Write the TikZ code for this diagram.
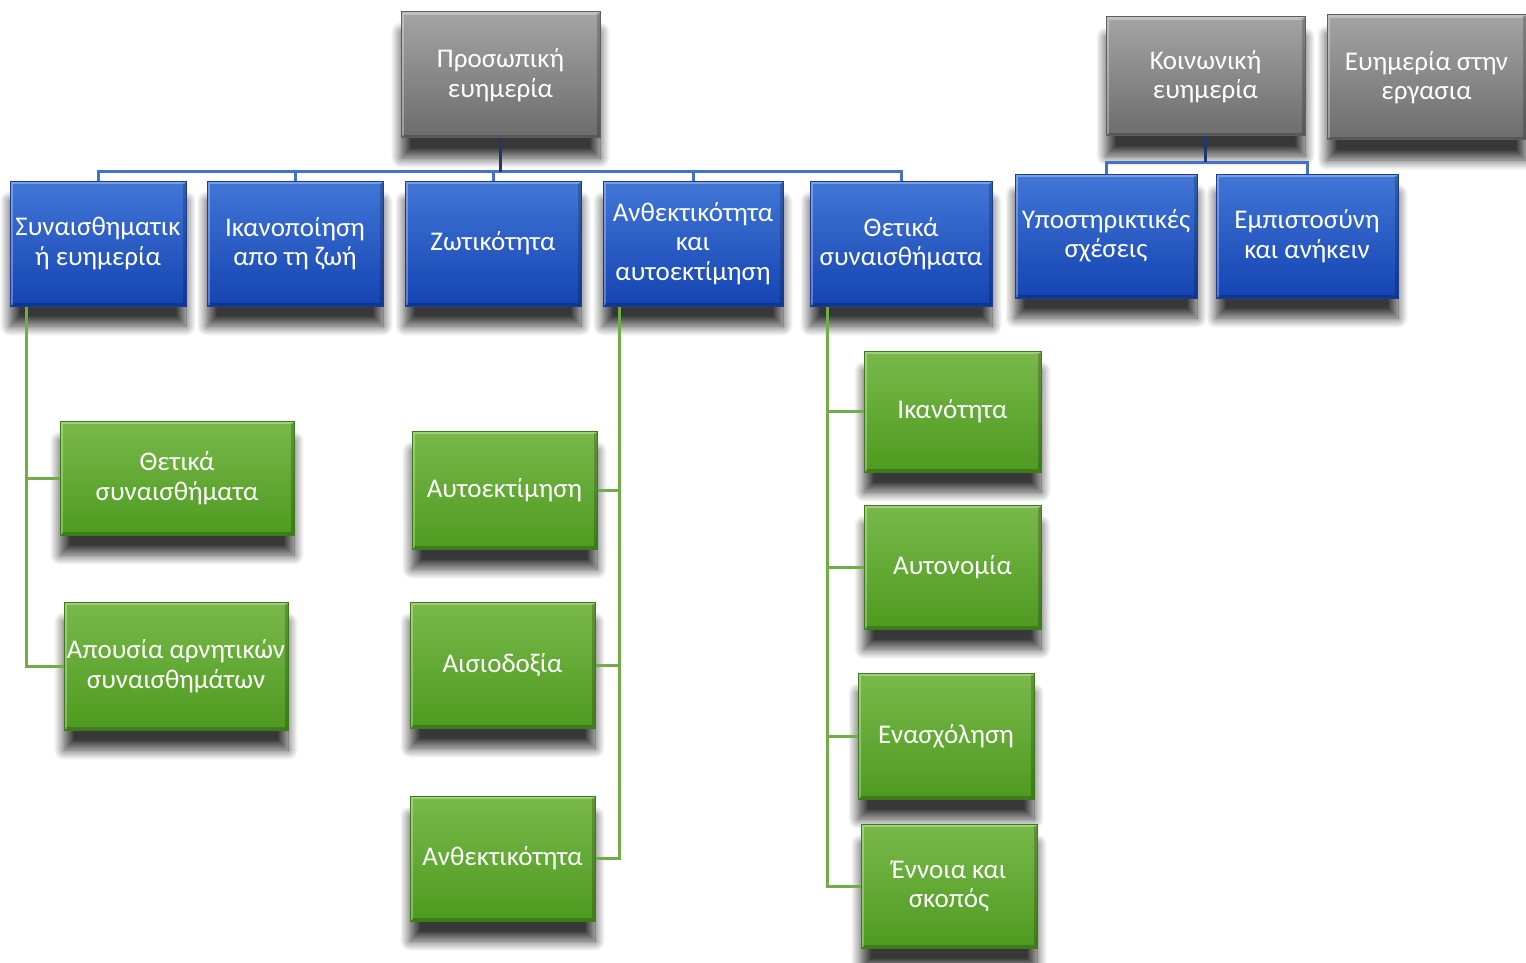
\documentclass[tikz,border=0pt]{standalone}
\usepackage{fontspec}
\setmainfont{Carlito}
\usetikzlibrary{calc,shadows.blur}
\definecolor{grayTop}{HTML}{A4A4A4}
\definecolor{grayBot}{HTML}{6C6C6C}
\definecolor{grayLine}{HTML}{5E5E5E}
\definecolor{blueTop}{HTML}{4276D6}
\definecolor{blueBot}{HTML}{1444B2}
\definecolor{blueLine}{HTML}{1A3C94}
\definecolor{greenTop}{HTML}{79B94B}
\definecolor{greenBot}{HTML}{4E9A20}
\definecolor{greenLine}{HTML}{3D7A18}
\definecolor{linkBlue}{HTML}{4472C4}
\definecolor{stemBlue}{HTML}{203864}
\definecolor{linkGreen}{HTML}{70AD47}
\tikzset{
  box/.style={rectangle, draw=#1, line width=1pt, text=white, align=center, inner sep=0pt,
    font=\fontsize{27}{29.5}\selectfont,
    blur shadow={shadow xshift=0pt, shadow yshift=-20pt, shadow blur radius=10pt, shadow blur steps=14, shadow opacity=78},
    path picture={
      \draw[white, opacity=.3, line width=3pt] ([shift={(1.5pt,1.5pt)}]path picture bounding box.south west) |- ([shift={(-1.5pt,-1.5pt)}]path picture bounding box.north east);
      \draw[black, opacity=.2, line width=3pt] ([shift={(1.5pt,1.5pt)}]path picture bounding box.south west) -| ([shift={(-1.5pt,-1.5pt)}]path picture bounding box.north east);
    }},
  graybox/.style={box=grayLine, top color=grayTop, bottom color=grayBot},
  bluebox/.style={box=blueLine, top color=blueTop, bottom color=blueBot},
  greenbox/.style={box=greenLine, top color=greenTop, bottom color=greenBot},
  bluelink/.style={draw=linkBlue, line width=3pt},
  stemlink/.style={draw=stemBlue, line width=3pt},
  greenlink/.style={draw=linkGreen, line width=3pt},
}
\begin{document}
\begin{tikzpicture}[x=1pt, y=-1pt]
  \useasboundingbox (0,0) rectangle (1526,963);

  %%%%% top level %%%%%
  \node[graybox, minimum width=199pt, minimum height=126pt] (pe) at (500.5,75) {Προσωπική\\ευημερία};
  \node[graybox, minimum width=199pt, minimum height=119pt] (ke) at (1205.5,76.5) {Κοινωνική\\ευημερία};
  \node[graybox, minimum width=199pt, minimum height=125pt] (ee) at (1426.5,77.5) {Ευημερία στην\\εργασια};

  %%%%% second level %%%%%
  \node[bluebox, minimum width=176pt, minimum height=125pt] (se) at (98,243.5) {Συναισθηματικ\\ή ευημερία};
  \node[bluebox, minimum width=176pt, minimum height=125pt] (ik) at (295,243.5) {Ικανοποίηση\\απο τη ζωή};
  \node[bluebox, minimum width=176pt, minimum height=125pt] (zo) at (493,243.5) {Ζωτικότητα};
  \node[bluebox, minimum width=180pt, minimum height=125pt] (ak) at (693,243.5) {Ανθεκτικότητα\\και\\αυτοεκτίμηση};
  \node[bluebox, minimum width=182pt, minimum height=125pt] (tha) at (901,243.5) {Θετικά\\συναισθήματα};
  \node[bluebox, minimum width=182pt, minimum height=124pt] (ys) at (1106,236) {Υποστηρικτικές\\σχέσεις};
  \node[bluebox, minimum width=182pt, minimum height=124pt] (em) at (1307,236) {Εμπιστοσύνη\\και ανήκειν};

  %%%%% third level %%%%%
  \node[greenbox, minimum width=234pt, minimum height=114pt] (gts) at (177,478) {Θετικά\\συναισθήματα};
  \node[greenbox, minimum width=224pt, minimum height=128pt] (ap) at (176,666) {Απουσία αρνητικών\\συναισθημάτων};
  \node[greenbox, minimum width=185pt, minimum height=118pt] (ae) at (504.5,490) {Αυτοεκτίμηση};
  \node[greenbox, minimum width=185pt, minimum height=126pt] (ai) at (502.5,665) {Αισιοδοξία};
  \node[greenbox, minimum width=185pt, minimum height=125pt] (an) at (502.5,858.5) {Ανθεκτικότητα};
  \node[greenbox, minimum width=177pt, minimum height=121pt] (ika) at (952.5,411.5) {Ικανότητα};
  \node[greenbox, minimum width=177pt, minimum height=124pt] (au) at (952.5,567) {Αυτονομία};
  \node[greenbox, minimum width=176pt, minimum height=126pt] (en) at (946,736) {Ενασχόληση};
  \node[greenbox, minimum width=176pt, minimum height=124pt] (es) at (949,886) {Έννοια και\\σκοπός};

  %%%%% links %%%%%
  \coordinate (pbus) at ($(pe.south)+(0,33)$);
  \coordinate (kbus) at ($(ke.south)+(0,26)$);
  \foreach \c in {se,ik,zo,ak,tha}
    \draw[bluelink] (\c.north) |- (pbus);
  \foreach \c in {ys,em}
    \draw[bluelink] (\c.north) |- (kbus);
  \draw[stemlink] (pe.south) -- (pbus);
  \draw[stemlink] (ke.south) -- (kbus);

  \foreach \c in {gts,ap}
    \draw[greenlink] ($(se.south west)+(17,0)$) |- (\c.west);
  \foreach \c in {ae,ai,an}
    \draw[greenlink] ($(ak.south west)+(17,0)$) |- (\c.east);
  \foreach \c in {ika,au,en,es}
    \draw[greenlink] ($(tha.south west)+(18,0)$) |- (\c.west);
\end{tikzpicture}
\end{document}
